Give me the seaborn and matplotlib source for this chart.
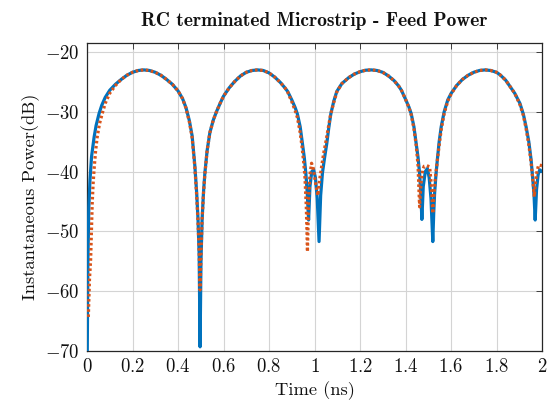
import numpy as np
import pandas as pd
import matplotlib
matplotlib.use("Agg")
import matplotlib.pyplot as plt
from matplotlib.ticker import FuncFormatter
import seaborn as sns

# ---- data ----
t_blue = [0.000, 0.004, 0.008, 0.013, 0.020, 0.031, 0.040, 0.053, 0.065, 0.080,
          0.100, 0.125, 0.150, 0.175, 0.200, 0.225, 0.250, 0.275, 0.300, 0.325,
          0.350, 0.375, 0.400, 0.420, 0.435, 0.450, 0.462, 0.474, 0.482, 0.488,
          0.493, 0.497, 0.501, 0.506, 0.512, 0.518, 0.528, 0.540, 0.555, 0.569,
          0.585, 0.600, 0.625, 0.650, 0.675, 0.700, 0.725, 0.750, 0.775, 0.800,
          0.825, 0.850, 0.870, 0.882, 0.900, 0.915, 0.925, 0.937, 0.947, 0.955,
          0.962, 0.968, 0.974, 0.980, 0.988, 0.996, 1.004, 1.012, 1.020, 1.027,
          1.035, 1.045, 1.054, 1.063, 1.072, 1.085, 1.098, 1.120, 1.150, 1.175,
          1.200, 1.225, 1.250, 1.275, 1.300, 1.325, 1.350, 1.370, 1.382, 1.400,
          1.415, 1.425, 1.437, 1.447, 1.455, 1.462, 1.467, 1.472, 1.478, 1.487,
          1.496, 1.504, 1.512, 1.520, 1.524, 1.528, 1.534, 1.540, 1.548, 1.557,
          1.570, 1.586, 1.601, 1.625, 1.650, 1.675, 1.700, 1.725, 1.750, 1.775,
          1.800, 1.815, 1.840, 1.860, 1.880, 1.903, 1.918, 1.930, 1.942, 1.952,
          1.960, 1.965, 1.970, 1.976, 1.983, 1.990, 2.000]
p_blue = [-76.0, -55.0, -46.0, -41.5, -37.5, -34.3, -32.3, -30.3, -28.9, -27.6,
          -26.4, -25.4, -24.6, -23.9, -23.4, -23.1, -23.0, -23.1, -23.4, -23.9,
          -24.6, -25.4, -26.5, -27.8, -29.3, -31.5, -34.0, -39.0, -43.5, -48.0,
          -54.0, -69.3, -55.0, -48.0, -43.5, -40.3, -36.5, -33.5, -31.4, -30.0,
          -28.6, -27.4, -26.0, -24.9, -24.0, -23.4, -23.1, -23.0, -23.1, -23.5,
          -24.2, -25.1, -26.0, -26.6, -28.0, -29.3, -30.4, -32.5, -35.3, -37.6,
          -40.3, -43.5, -48.1, -42.5, -40.0, -39.7, -41.0, -44.5, -51.7, -44.0,
          -40.2, -37.5, -35.3, -32.6, -30.3, -28.2, -26.6, -25.3, -24.3, -23.7,
          -23.3, -23.05, -23.0, -23.1, -23.4, -24.0, -24.8, -25.7, -26.4, -27.9,
          -29.2, -30.3, -32.5, -35.3, -37.6, -40.3, -43.5, -48.0, -42.5, -40.0,
          -39.5, -41.0, -44.5, -51.7, -47.0, -43.6, -40.5, -38.0, -35.0, -32.5,
          -30.0, -28.0, -26.9, -25.6, -24.6, -23.9, -23.4, -23.1, -23.0, -23.1,
          -23.4, -23.8, -24.7, -25.8, -26.9, -28.6, -30.4, -32.5, -35.0, -38.0,
          -41.5, -44.0, -48.1, -43.0, -40.5, -39.7, -40.0]

t_orange = [0.006, 0.011, 0.016, 0.020, 0.023, 0.027, 0.031, 0.038, 0.045, 0.055,
            0.067, 0.080, 0.100, 0.125, 0.150, 0.175, 0.200, 0.225, 0.250, 0.275,
            0.300, 0.325, 0.350, 0.375, 0.400, 0.420, 0.435, 0.450, 0.462, 0.474,
            0.482, 0.488, 0.493, 0.497, 0.501, 0.506, 0.512, 0.518, 0.528, 0.540,
            0.555, 0.569, 0.585, 0.600, 0.625, 0.650, 0.675, 0.700, 0.725, 0.750,
            0.775, 0.800, 0.825, 0.850, 0.870, 0.882, 0.900, 0.915, 0.925, 0.937,
            0.945, 0.952, 0.958, 0.964, 0.969, 0.974, 0.980, 0.987, 0.995, 1.005,
            1.015, 1.022, 1.030, 1.040, 1.050, 1.060, 1.070, 1.085, 1.098, 1.120,
            1.150, 1.175, 1.200, 1.225, 1.250, 1.275, 1.300, 1.325, 1.350, 1.370,
            1.382, 1.400, 1.415, 1.425, 1.437, 1.447, 1.455, 1.462, 1.468, 1.475,
            1.482, 1.493, 1.506, 1.513, 1.520, 1.525, 1.530, 1.536, 1.542, 1.550,
            1.557, 1.570, 1.586, 1.601, 1.625, 1.650, 1.675, 1.700, 1.725, 1.750,
            1.775, 1.800, 1.815, 1.840, 1.860, 1.880, 1.903, 1.918, 1.930, 1.942,
            1.952, 1.960, 1.966, 1.972, 1.978, 1.985, 2.000]
p_orange = [-64.3, -58.0, -54.8, -49.0, -45.3, -42.0, -39.7, -36.5, -34.2, -32.0,
            -30.3, -28.6, -26.9, -25.6, -24.6, -23.9, -23.4, -23.1, -23.0, -23.1,
            -23.4, -23.9, -24.6, -25.4, -26.5, -27.8, -29.4, -31.7, -34.3, -39.3,
            -44.0, -48.5, -53.5, -59.8, -54.0, -48.0, -43.7, -40.5, -36.5, -33.5,
            -31.4, -30.0, -28.6, -27.4, -26.0, -24.9, -24.0, -23.4, -23.1, -23.0,
            -23.1, -23.5, -24.2, -25.1, -26.0, -26.7, -28.3, -29.8, -31.0, -33.5,
            -35.8, -38.3, -41.0, -46.0, -53.4, -45.0, -40.5, -38.6, -39.5, -42.0,
            -44.0, -41.5, -39.5, -37.0, -35.0, -32.8, -30.6, -28.4, -26.7, -25.3,
            -24.3, -23.7, -23.3, -23.05, -23.0, -23.1, -23.4, -24.0, -24.8, -25.7,
            -26.4, -27.9, -29.3, -30.5, -32.8, -35.6, -39.0, -45.9, -42.0, -39.8,
            -39.1, -39.0, -39.2, -42.0, -47.0, -44.0, -41.5, -39.5, -37.5, -35.0,
            -33.0, -30.3, -28.2, -27.0, -25.6, -24.6, -23.9, -23.4, -23.1, -23.0,
            -23.1, -23.4, -23.8, -24.7, -25.8, -26.9, -28.8, -30.6, -32.8, -35.5,
            -38.5, -41.5, -44.2, -41.5, -40.0, -38.9, -39.0]

x_ticks = [0, 0.2, 0.4, 0.6, 0.8, 1.0, 1.2, 1.4, 1.6, 1.8, 2.0]
y_ticks = [-70, -60, -50, -40, -30, -20]

title = "RC terminated Microstrip - Feed Power"
xlabel = "Time (ns)"
ylabel = "Instantaneous Power(dB)"

# ---- style ----
sns.set_theme(style="white")
plt.rcParams["mathtext.fontset"] = "cm"
plt.rcParams["font.family"] = ["cmr10", "DejaVu Serif"]
plt.rcParams["axes.formatter.use_mathtext"] = True

fig = plt.figure(figsize=(5.48, 4.08), dpi=100)
ax = fig.add_axes([87 / 548, 57 / 408, 455 / 548, 308 / 408])

df_b = pd.DataFrame({"t": t_blue, "p": p_blue})
df_o = pd.DataFrame({"t": t_orange, "p": p_orange})

sns.lineplot(data=df_b, x="t", y="p", ax=ax, color="#0072BD", lw=2.3,
             sort=False, estimator=None, solid_joinstyle="round", zorder=3)
sns.lineplot(data=df_o, x="t", y="p", ax=ax, color="#D95319", lw=2.3,
             linestyle=(0, (0.8, 0.8)), sort=False, estimator=None, zorder=4)

ax.set_xlim(0, 2)
ax.set_ylim(-70, -18.5)
ax.set_xticks(x_ticks)
ax.set_yticks(y_ticks)
fmt = FuncFormatter(lambda v, pos: f"${v:g}$")
ax.xaxis.set_major_formatter(fmt)
ax.yaxis.set_major_formatter(fmt)

ax.grid(True, color="#d4d4d4", lw=0.8)
ax.set_axisbelow(True)
for s in ax.spines.values():
    s.set_color("#262626")
    s.set_linewidth(0.9)
ax.tick_params(direction="in", length=4, width=0.6, color="#262626",
               top=True, right=True, labelsize=13.5, pad=5, labelcolor="#111111")

ax.set_xlabel(xlabel, fontsize=13.3, labelpad=4, color="#111111")
ax.set_ylabel(ylabel, fontsize=13.3, labelpad=4, color="#111111")
ax.set_title(title, fontsize=14, family=["cmb10", "DejaVu Serif"],
             pad=12, color="#111111")

fig.savefig("out.png", dpi=100)
